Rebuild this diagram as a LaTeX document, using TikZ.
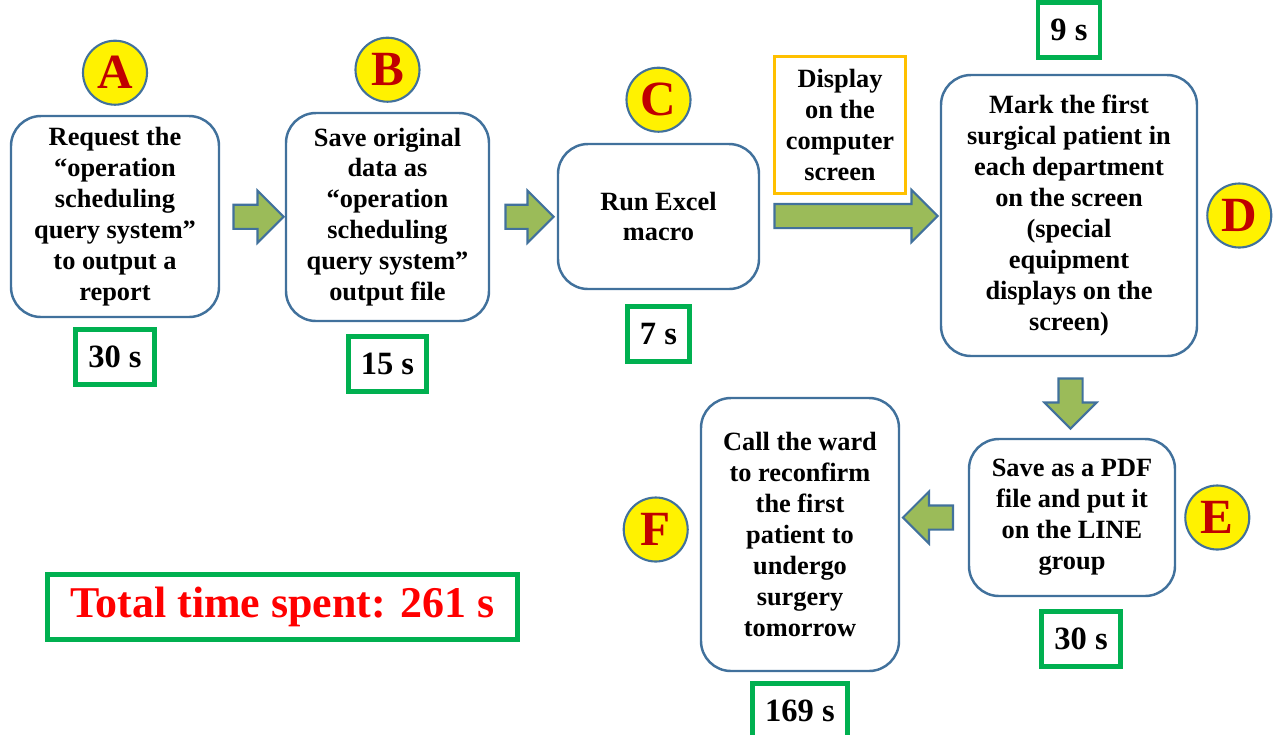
\documentclass[tikz,border=0pt]{standalone}
\usepackage{fontspec}
\setmainfont{Liberation Serif}
\usepackage{tikz}
\usetikzlibrary{positioning,calc,shapes.arrows}

\definecolor{boxblue}{RGB}{65,113,156}
\definecolor{arrowgreen}{RGB}{155,187,89}
\definecolor{timegreen}{RGB}{0,176,80}
\definecolor{letterred}{RGB}{192,0,0}
\definecolor{noteorange}{RGB}{255,192,0}

\tikzset{
  stepbox/.style={rectangle,
      rounded corners = 0.6cm,
      draw = boxblue,
      line width = 1.4pt,
      fill = white,
      align = center,
      font = \bfseries\fontsize{15}{17.6}\selectfont},
  letterdot/.style={circle,
      draw = boxblue,
      line width = 1.2pt,
      fill = yellow,
      text = letterred,
      minimum size = 1.28cm,
      inner sep = 0pt,
      font = \bfseries\fontsize{28}{30}\selectfont},
  timebox/.style={rectangle,
      draw = timegreen,
      line width = 2.8pt,
      inner xsep = 0.25cm,
      minimum height = 1.1cm,
      font = \bfseries\fontsize{18.5}{20}\selectfont},
  flowarrow/.style={single arrow,
      draw = boxblue,
      fill = arrowgreen,
      line width = 1.2pt,
      inner xsep = 0pt,
      inner ysep = 0.22cm,
      single arrow head extend = 0.28cm,
      minimum height = #1},
}

\begin{document}
\begin{tikzpicture}
\useasboundingbox (0,0) rectangle (25.48,-14.68);

% steps of the upper row
\node[stepbox,
    minimum width = 4.16cm,
    minimum height = 4.02cm] (boxA) at (2.30,-4.33)
    {Request the\\“operation\\scheduling\\query system”\\to output a\\report};

\node[stepbox,
    minimum width = 4.06cm,
    minimum height = 4.16cm] (boxB) at (7.75,-4.34)
    {Save original\\data as\\“operation\\scheduling\\query system”\\output file};

\node[stepbox,
    minimum width = 4.02cm,
    minimum height = 2.9cm] (boxC) at (13.17,-4.33)
    {Run Excel\\macro};

\node[stepbox,
    minimum width = 5.12cm,
    minimum height = 5.62cm] (boxD) at (21.38,-4.31)
    {Mark the first\\surgical patient in\\each department\\on the screen\\(special\\equipment\\displays on the\\screen)};

% steps of the lower row
\node[stepbox,
    minimum width = 4.12cm,
    minimum height = 3.14cm] (boxE) at (21.44,-10.35)
    {Save as a PDF\\file and put it\\on the LINE\\group};

\node[stepbox,
    minimum width = 3.96cm,
    minimum height = 5.46cm] (boxF) at (16.0,-10.69)
    {Call the ward\\to reconfirm\\the first\\patient to\\undergo\\surgery\\tomorrow};

% note over the long arrow
\node[rectangle,
    draw = noteorange,
    line width = 1.6pt,
    align = center,
    minimum width = 2.62cm,
    minimum height = 2.74cm,
    font = \bfseries\fontsize{15}{17.6}\selectfont] (note) at (16.8,-2.5)
    {Display\\on the\\computer\\screen};

% letters
\node[letterdot, above = 0.18cm of boxA] (dotA) {A};
\node[letterdot, above = 0.18cm of boxB] (dotB) {B};
\node[letterdot, above = 0.2cm of boxC] (dotC) {C};
\node[letterdot, right = 0.16cm of boxD] (dotD) {D};
\node[letterdot, right = 0.16cm of boxE] (dotE) {E};
\node[letterdot, left = 0.22cm of boxF, yshift = 0.1cm] (dotF) {F};

% times
\node[timebox, below = 0.17cm of boxA] (timeA) {30 s};
\node[timebox, below = 0.23cm of boxB] (timeB) {15 s};
\node[timebox, below = 0.27cm of boxC] (timeC) {7 s};
\node[timebox, above = 0.27cm of boxD] (timeD) {9 s};
\node[timebox, below = 0.23cm of boxE, xshift = 0.18cm] (timeE) {30 s};
\node[timebox, below = 0.17cm of boxF] (timeF) {169 s};

% block arrows
\node[flowarrow = 1.0cm] (arrAB) at ($(boxA.east)!0.5!(boxB.west)$) {};
\node[flowarrow = 0.96cm] (arrBC) at ($(boxB.east)!0.5!(boxC.west)$) {};
\node[flowarrow = 3.26cm] (arrCD) at ($(boxC.east)!0.5!(boxD.west)$) {};
\node[flowarrow = 1.0cm, rotate = -90] (arrDE)
    at ($(boxD.south)!0.5!(boxE.north)$) {};
\node[flowarrow = 1.0cm, rotate = 180] (arrEF)
    at ($(boxE.west)!0.5!(boxF.east |- boxE.west)$) {};

% total
\node[rectangle,
    draw = timegreen,
    line width = 2.8pt,
    text = red,
    minimum width = 9.4cm,
    minimum height = 1.3cm,
    font = \bfseries\fontsize{25}{28}\selectfont] (total) at (5.65,-12.14)
    {Total time spent: 261 s};

\end{tikzpicture}
\end{document}
